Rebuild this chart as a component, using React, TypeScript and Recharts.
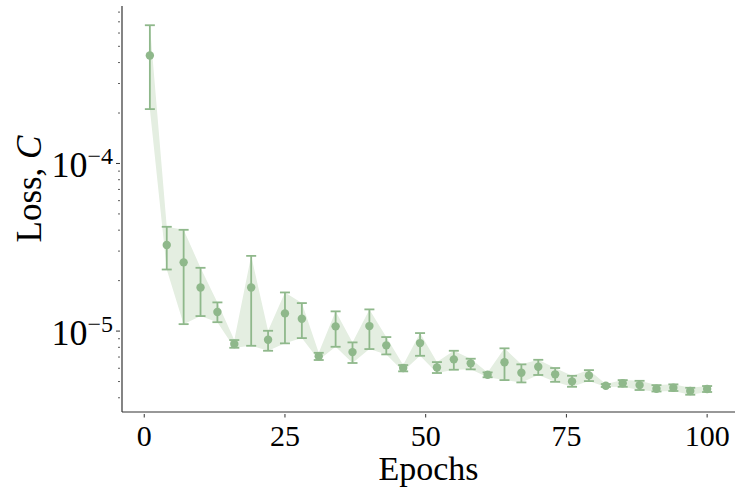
import { ComposedChart, Area, Scatter, ErrorBar, XAxis, YAxis } from "recharts";

const epochs = [1, 4, 7, 10, 13, 16, 19, 22, 25, 28, 31, 34, 37, 40, 43, 46, 49, 52, 55, 58, 61, 64, 67, 70, 73, 76, 79, 82, 85, 88, 91, 94, 97, 100];

const lossMean = [
    4.41e-4, 3.26e-5, 2.57e-5, 1.82e-5, 1.30e-5, 8.37e-6, 1.82e-5, 8.87e-6, 1.275e-5, 1.184e-5,
    7.07e-6, 1.067e-5, 7.49e-6, 1.071e-5, 8.22e-6, 6.02e-6, 8.48e-6, 6.07e-6, 6.78e-6, 6.42e-6,
    5.49e-6, 6.51e-6, 5.64e-6, 6.12e-6, 5.52e-6, 5.01e-6, 5.44e-6, 4.72e-6, 4.88e-6, 4.76e-6,
    4.53e-6, 4.59e-6, 4.39e-6, 4.51e-6,
];

const lossLow = [
    2.11e-4, 2.33e-5, 1.10e-5, 1.229e-5, 1.13e-5, 7.95e-6, 8.17e-6, 7.63e-6, 8.45e-6, 9.08e-6,
    6.72e-6, 8.06e-6, 6.45e-6, 7.81e-6, 7.26e-6, 5.75e-6, 7.12e-6, 5.62e-6, 5.88e-6, 5.91e-6,
    5.30e-6, 5.10e-6, 4.94e-6, 5.47e-6, 4.98e-6, 4.65e-6, 5.03e-6, 4.64e-6, 4.65e-6, 4.45e-6,
    4.36e-6, 4.39e-6, 4.17e-6, 4.33e-6,
];

const lossHigh = [
    6.68e-4, 4.19e-5, 4.02e-5, 2.385e-5, 1.483e-5, 8.84e-6, 2.81e-5, 1.004e-5, 1.70e-5, 1.469e-5,
    7.42e-6, 1.311e-5, 8.56e-6, 1.347e-5, 9.21e-6, 6.27e-6, 9.73e-6, 6.53e-6, 7.63e-6, 6.84e-6,
    5.67e-6, 7.89e-6, 6.33e-6, 6.74e-6, 6.02e-6, 5.41e-6, 5.85e-6, 4.83e-6, 5.10e-6, 5.05e-6,
    4.76e-6, 4.81e-6, 4.59e-6, 4.70e-6,
];

const xTicks = [0, 25, 50, 75, 100];
const yMajor = [1e-5, 1e-4];
const yTicks = [
    4e-6, 5e-6, 6e-6, 7e-6, 8e-6, 9e-6, 1e-5,
    2e-5, 3e-5, 4e-5, 5e-5, 6e-5, 7e-5, 8e-5, 9e-5, 1e-4,
    2e-4, 3e-4, 4e-4, 5e-4, 6e-4, 7e-4, 8e-4,
];

const rows = epochs.map((epoch, i) => ({
    epoch,
    loss: lossMean[i],
    band: [lossLow[i], lossHigh[i]],
    err: [lossMean[i] - lossLow[i], lossHigh[i] - lossMean[i]],
}));

const green = "#8fb88b";
const bandFill = "#e4eee1";
const axisColor = "#333";
const serif = "'Liberation Serif', 'DejaVu Serif', serif";

function XTick(props: any) {
    const { x, y, payload } = props;
    return (
        <g>
            <line x1={x} x2={x} y1={y} y2={y + 3.5} stroke={axisColor} strokeWidth={1} />
            <text x={x} y={y + 32} textAnchor="middle" fontFamily={serif} fontSize={30} fill="#000">
                {payload.value}
            </text>
        </g>
    );
}

function YTick(props: any) {
    const { x, y, payload } = props;
    const v = payload.value;
    const major = yMajor.some((m) => Math.abs(m - v) / m < 1e-6);
    if (!major) {
        return <line x1={x - 2} x2={x} y1={y} y2={y} stroke={axisColor} strokeWidth={0.8} />;
    }
    const exp = Math.round(Math.log10(v));
    return (
        <g>
            <line x1={x - 4} x2={x} y1={y} y2={y} stroke={axisColor} strokeWidth={1} />
            <text x={x - 7} y={y + 14} textAnchor="end" fontFamily={serif} fontSize={36} fill="#000">
                <tspan>10</tspan>
                <tspan dy={-13.5} fontSize={24}>{"\u2212" + Math.abs(exp)}</tspan>
            </text>
        </g>
    );
}

function XLabel(props: any) {
    const vb = props.viewBox || {};
    const cx = (vb.x || 0) + (vb.width || 0) / 2;
    const top = vb.y || 0;
    return (
        <text x={cx} y={top + 68} textAnchor="middle" fontFamily={serif} fontSize={34} fill="#000">
            Epochs
        </text>
    );
}

export default function App() {
    return (
        <div style={{ position: "absolute", left: 0, top: 0, background: "#fff" }}>
            <ComposedChart width={735} height={487} data={rows} margin={{ top: 6, right: 0, left: 0, bottom: 0 }}>
                <XAxis
                    type="number"
                    dataKey="epoch"
                    domain={[-3.95, 104.95]}
                    ticks={xTicks}
                    allowDataOverflow
                    height={75}
                    tickSize={0}
                    tickLine={false}
                    tick={XTick}
                    axisLine={{ stroke: axisColor, strokeWidth: 1.2 }}
                    label={<XLabel />}
                />
                <YAxis
                    type="number"
                    scale="log"
                    domain={[3.29e-6, 8.7e-4]}
                    ticks={yTicks}
                    interval={0}
                    allowDataOverflow
                    width={122}
                    tickSize={0}
                    tickLine={false}
                    tick={YTick}
                    axisLine={{ stroke: axisColor, strokeWidth: 1.2 }}
                    label={
                        <text x={41} y={209} transform="rotate(-90 41 209)" textAnchor="middle" fontFamily={serif} fontSize={35} fill="#000">
                            Loss, <tspan fontStyle="italic">C</tspan>
                        </text>
                    }
                />
                <Area
                    type="linear"
                    dataKey="band"
                    stroke="none"
                    fill={bandFill}
                    fillOpacity={1}
                    dot={false}
                    activeDot={false}
                    isAnimationActive={false}
                />
                <Scatter
                    dataKey="loss"
                    fill={green}
                    isAnimationActive={false}
                    shape={(p: any) => <circle cx={p.cx} cy={p.cy} r={4.2} fill={green} />}
                >
                    <ErrorBar dataKey="err" direction="y" width={5} stroke={green} strokeWidth={1.8} isAnimationActive={false} />
                </Scatter>
            </ComposedChart>
        </div>
    );
}
